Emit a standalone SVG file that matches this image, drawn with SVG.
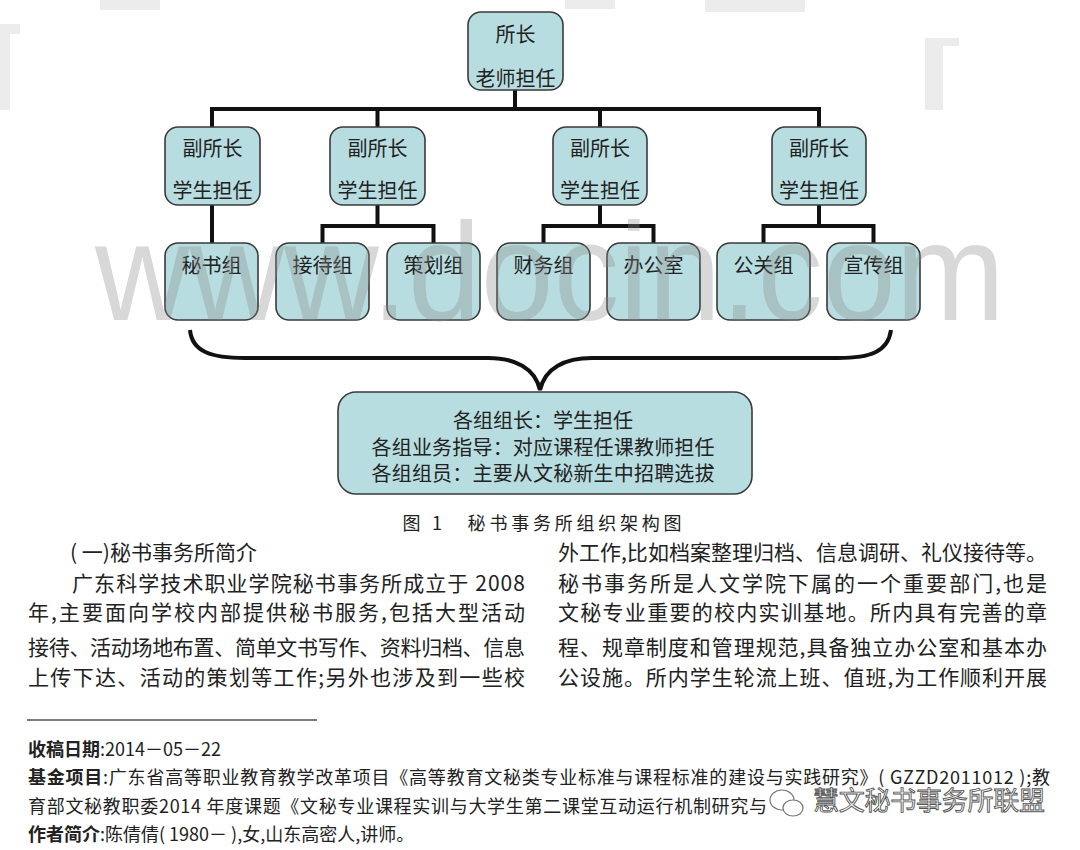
<svg xmlns="http://www.w3.org/2000/svg" width="1080" height="850" viewBox="0 0 1080 850">
<style>
.box{fill:#b8dde0;stroke:#3a3a3a;stroke-width:1.6}
.lbl{font-family:"Noto Sans CJK SC","Noto Sans",sans-serif;font-size:20px;fill:#222;text-anchor:middle;dominant-baseline:central}
.con{fill:none;stroke:#111;stroke-width:4}
.body{font-family:"Noto Sans CJK SC","Liberation Serif",sans-serif;font-size:21px;fill:#222}
.fn{font-family:"Noto Sans CJK SC","Liberation Serif",sans-serif;font-size:18px;fill:#222}
.fnb{font-weight:bold}
.wm{font-family:"Liberation Sans","Noto Sans",sans-serif;font-size:140px;fill:#888;fill-opacity:0.33}
</style>
<rect width="1080" height="850" fill="#fff"/>
<g id="bg-marks" fill="#ececec">
<rect x="100" y="0" width="60" height="10"/>
<rect x="565" y="0" width="50" height="9"/>
<rect x="705" y="0" width="100" height="12"/>
<rect x="925" y="38" width="34" height="8"/>
<rect x="925" y="38" width="18" height="72"/>
<rect x="0" y="24" width="20" height="10"/>
<rect x="0" y="24" width="10" height="86"/>
</g>
<g id="connectors">
<path class="con" d="M515,90 V109 M212,109 H819 M212,107 V127 M377.5,107 V127 M600,107 V127 M819,107 V127"/>
<path class="con" d="M212,205 V243"/>
<path class="con" d="M377.5,205 V226 M322.5,226 H433.5 M322.5,224 V243 M433.5,224 V243"/>
<path class="con" d="M600,205 V226 M543.5,226 H653.5 M543.5,224 V243 M653.5,224 V243"/>
<path class="con" d="M819,205 V226 M763.5,226 H873.5 M763.5,224 V243 M873.5,224 V243"/>
<path class="con" d="M190,330 C192,352 212,358 245,358 L488,358 C515,358 535,368 540,390 C545,368 565,358 592,358 L838,358 C870,358 888,352 891,330"/>
</g>
<g id="n-director"><rect class="box" x="468" y="12" width="95" height="78" rx="13"/><text class="lbl" x="515.5" y="33">所长</text><text class="lbl" x="515.5" y="77">老师担任</text></g>
<g id="n-vice1"><rect class="box" x="165" y="127" width="95" height="78" rx="13"/><text class="lbl" x="212.5" y="147">副所长</text><text class="lbl" x="212.5" y="189">学生担任</text></g>
<g id="n-vice2"><rect class="box" x="330" y="127" width="95" height="78" rx="13"/><text class="lbl" x="377.5" y="147">副所长</text><text class="lbl" x="377.5" y="189">学生担任</text></g>
<g id="n-vice3"><rect class="box" x="553" y="127" width="94" height="78" rx="13"/><text class="lbl" x="600" y="147">副所长</text><text class="lbl" x="600" y="189">学生担任</text></g>
<g id="n-vice4"><rect class="box" x="772" y="127" width="94" height="78" rx="13"/><text class="lbl" x="819" y="147">副所长</text><text class="lbl" x="819" y="189">学生担任</text></g>
<g id="n-mishu"><rect class="box" x="165" y="243" width="93" height="77" rx="13"/><text class="lbl" x="211.5" y="264">秘书组</text></g>
<g id="n-jiedai"><rect class="box" x="276" y="243" width="93" height="77" rx="13"/><text class="lbl" x="322.5" y="264">接待组</text></g>
<g id="n-cehua"><rect class="box" x="387" y="243" width="93" height="77" rx="13"/><text class="lbl" x="433.5" y="264">策划组</text></g>
<g id="n-caiwu"><rect class="box" x="497" y="243" width="93" height="77" rx="13"/><text class="lbl" x="543.5" y="264">财务组</text></g>
<g id="n-office"><rect class="box" x="607" y="243" width="93" height="77" rx="13"/><text class="lbl" x="653.5" y="264">办公室</text></g>
<g id="n-gongguan"><rect class="box" x="717" y="243" width="93" height="77" rx="13"/><text class="lbl" x="763.5" y="264">公关组</text></g>
<g id="n-xuanchuan"><rect class="box" x="827" y="243" width="93" height="77" rx="13"/><text class="lbl" x="873.5" y="264">宣传组</text></g>
<g id="n-groups"><rect class="box" x="338" y="392" width="414" height="102" rx="18"/>
<text class="lbl" x="543" y="419">各组组长：学生担任</text>
<text class="lbl" x="543" y="446" textLength="343" lengthAdjust="spacing">各组业务指导：对应课程任课教师担任</text>
<text class="lbl" x="543" y="472" textLength="343" lengthAdjust="spacing">各组组员：主要从文秘新生中招聘选拔</text></g>
<text class="lbl" x="542" y="522" style="font-size:18px" textLength="279" lengthAdjust="spacing">图 1　秘书事务所组织架构图</text>
<text class="wm" x="95" y="320" textLength="910" lengthAdjust="spacingAndGlyphs">www.docin.com</text>
<g id="body-left" class="body">
<text x="70" y="560">( 一)秘书事务所简介</text>
<text x="72" y="591" textLength="453" lengthAdjust="spacing">广东科学技术职业学院秘书事务所成立于 2008</text>
<text x="28" y="620" textLength="497" lengthAdjust="spacing">年,主要面向学校内部提供秘书服务,包括大型活动</text>
<text x="28" y="655" textLength="497" lengthAdjust="spacing">接待、活动场地布置、简单文书写作、资料归档、信息</text>
<text x="28" y="685" textLength="497" lengthAdjust="spacing">上传下达、活动的策划等工作;另外也涉及到一些校</text>
</g>
<g id="body-right" class="body">
<text x="558" y="560" textLength="489" lengthAdjust="spacing">外工作,比如档案整理归档、信息调研、礼仪接待等。</text>
<text x="558" y="591" textLength="489" lengthAdjust="spacing">秘书事务所是人文学院下属的一个重要部门,也是</text>
<text x="558" y="620" textLength="489" lengthAdjust="spacing">文秘专业重要的校内实训基地。所内具有完善的章</text>
<text x="558" y="655" textLength="489" lengthAdjust="spacing">程、规章制度和管理规范,具备独立办公室和基本办</text>
<text x="558" y="685" textLength="489" lengthAdjust="spacing">公设施。所内学生轮流上班、值班,为工作顺利开展</text>
</g>
<line x1="27" y1="720" x2="317" y2="720" stroke="#555" stroke-width="1.5"/>
<g id="footnotes" class="fn">
<text x="28" y="756"><tspan class="fnb">收稿日期</tspan>:2014－05－22</text>
<text x="28" y="784" textLength="1022" lengthAdjust="spacing"><tspan class="fnb">基金项目</tspan>:广东省高等职业教育教学改革项目《高等教育文秘类专业标准与课程标准的建设与实践研究》( GZZD2011012 );教</text>
<text x="28" y="813" textLength="739" lengthAdjust="spacing">育部文秘教职委2014 年度课题《文秘专业课程实训与大学生第二课堂互动运行机制研究与</text>
<text x="28" y="841"><tspan class="fnb">作者简介</tspan>:陈倩倩( 1980－ ),女,山东高密人,讲师。</text>
</g>
<g id="wechat-mark">
<ellipse cx="782" cy="800" rx="12" ry="10" fill="#fff" stroke="#777" stroke-width="1.2"/>
<ellipse cx="793" cy="808" rx="10" ry="8" fill="#fff" stroke="#777" stroke-width="1.2"/>
<text x="813" y="810" style="font-family:'Noto Sans CJK SC',sans-serif;font-size:26px;fill:#fff;stroke:#555;stroke-width:0.9" textLength="232" lengthAdjust="spacing">慧文秘书事务所联盟</text>
</g>
</svg>
